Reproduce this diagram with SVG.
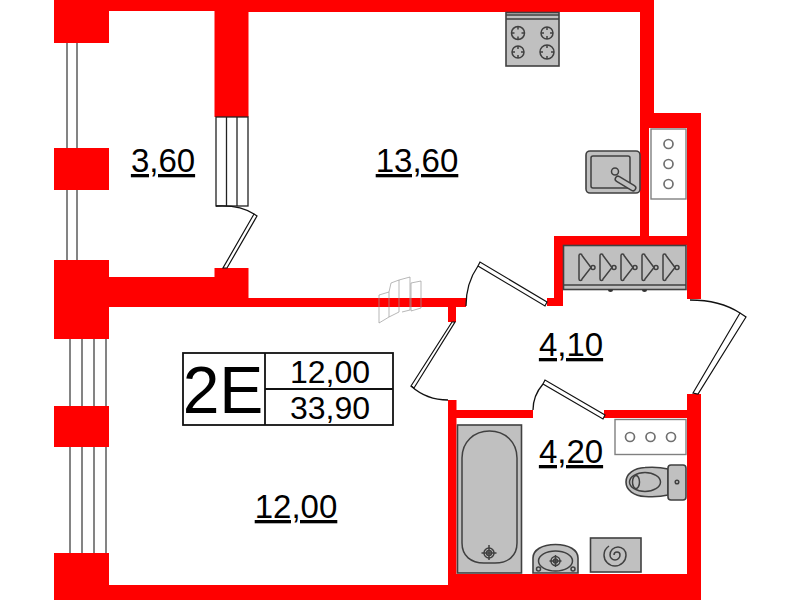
<svg xmlns="http://www.w3.org/2000/svg" width="800" height="600" viewBox="0 0 800 600">
<style>
.w{fill:#ff0000;stroke:none}
.g{fill:#c0c0c0;stroke:#404040;stroke-width:1.6}
.gn{fill:none;stroke:#404040;stroke-width:1.5}
.win{stroke:#666;stroke-width:1.6;fill:none}
.frame{fill:#fff;stroke:#222;stroke-width:1.3}
.leaf{fill:#fff;stroke:#111;stroke-width:1.2}
.arc{fill:none;stroke:#111;stroke-width:1.3}
.shaft{fill:#fff;stroke:#808080;stroke-width:1.4}
.c{fill:none;stroke:#707070;stroke-width:1.7}
.ghost{fill:none;stroke:#999;stroke-width:.7}
text{font-family:"Liberation Sans",Arial,sans-serif;fill:#000;font-size:32px;text-anchor:middle}
.u{font-size:33px;text-decoration:underline;text-decoration-thickness:1.4px;text-underline-offset:3.5px}
</style>
<rect width="800" height="600" fill="#fff"/>
<g id="windows">
<path class="win" d="M67 43V148M77 43V148M67 190V260M77 190V260M70 339V406M82 339V406M94 339V406M106 339V406M70 447V553M82 447V553M94 447V553M106 447V553"/>
</g>
<g id="walls">
<rect class="w" x="54" y="0" width="600" height="11"/>
<rect class="w" x="54" y="0" width="55" height="43"/>
<rect class="w" x="54" y="148" width="55" height="42"/>
<rect class="w" x="54" y="260" width="55" height="79"/>
<rect class="w" x="54" y="406" width="55" height="41"/>
<rect class="w" x="54" y="553" width="55" height="47"/>
<rect class="w" x="109" y="277" width="106" height="30"/>
<rect class="w" x="214.500" y="268" width="34" height="30"/>
<rect class="w" x="214.500" y="0" width="34" height="117"/>
<rect class="w" x="248" y="0" width="406" height="12"/>
<rect class="w" x="109" y="298" width="357" height="9"/>
<rect class="w" x="640" y="0" width="14" height="128"/>
<rect class="w" x="640" y="113" width="61" height="15"/>
<rect class="w" x="640" y="128" width="9" height="110"/>
<rect class="w" x="687" y="113" width="14" height="186"/>
<rect class="w" x="554" y="236" width="147" height="9"/>
<rect class="w" x="554" y="236" width="9" height="70"/>
<rect class="w" x="547" y="298" width="16" height="8"/>
<rect class="w" x="448" y="306" width="8" height="16"/>
<rect class="w" x="448" y="400" width="8.500" height="200"/>
<rect class="w" x="448" y="410" width="85" height="8"/>
<rect class="w" x="604" y="410" width="84" height="8"/>
<rect class="w" x="687" y="394" width="14" height="206"/>
<rect class="w" x="448" y="574" width="253" height="26"/>
<rect class="w" x="109" y="585" width="340" height="15"/>
</g>
<g id="balcony-door">
<rect class="frame" x="216" y="117" width="32" height="89"/>
<path class="frame" d="M226.500 117V206M237 117V206" style="fill:none"/>
<path class="leaf" d="M254 214L257 216L227 268H223Z"/>
<path class="arc" d="M216 206C232 205 245 208 254 214"/>
</g>
<g id="ghost">
<path class="ghost" d="M379 295L389 292V317L379 323ZM389 292L391 283L399 280V312L389 317M399 280L410 277V310L402 312M411 283L421 281V308L411 311Z"/>
</g>
<g id="door-hall-top">
<path class="leaf" d="M480 262L478 266L545 306L547 302Z"/>
<path class="arc" d="M466 306C466 290 471 276 478 266"/>
</g>
<g id="door-hall-left">
<path class="leaf" d="M452 322L455 322L414 388L411 386Z"/>
<path class="arc" d="M411 386C421 395 434 400 448 400"/>
</g>
<g id="door-hall-right">
<path class="leaf" d="M740 313L746 317L698 394L693 393Z"/>
<path class="arc" d="M690 300C709 300 726 304 740 313"/>
</g>
<g id="door-bath">
<path class="leaf" d="M545 380L543 384L603 419L605 415Z"/>
<path class="arc" d="M533 410C533 400 537 391 543 384"/>
</g>
<g id="stove">
<rect class="g" x="506" y="12.500" width="53" height="53.500"/>
<path class="gn" d="M506 15H559M506 19H559"/>
<circle class="gn" cx="518" cy="33" r="6.500"/><circle class="gn" cx="547" cy="33" r="6"/>
<circle class="gn" cx="518" cy="52" r="6"/><circle class="gn" cx="547" cy="52" r="7"/>
<path class="gn" d="M518 26.500v3M518 36.500v3M511.500 33h3M521.500 33h3M547 27v3M547 36v3M541 33h3M550 33h3M518 46v3M518 55v3M512 52h3M521 52h3M547 45v3M547 56v3M540 52h3M551 52h3"/>
</g>
<g id="sink">
<rect class="g" x="586" y="151" width="54" height="42" rx="4"/>
<rect class="gn" x="591" y="156" width="39" height="32" rx="2"/>
<circle class="gn" cx="615" cy="171.500" r="3.500"/>
<path d="M618 179L633 188" stroke="#404040" stroke-width="7" stroke-linecap="round"/>
<path d="M618 179L633 188" stroke="#c0c0c0" stroke-width="4" stroke-linecap="round"/>
</g>
<g id="shaft-kitchen">
<rect class="shaft" x="651" y="129" width="35" height="70"/>
<circle class="c" cx="668.500" cy="144" r="4.500"/><circle class="c" cx="668.500" cy="164" r="4.500"/><circle class="c" cx="668.500" cy="184" r="4.500"/>
</g>
<g id="wardrobe">
<rect class="g" x="563.500" y="245.500" width="122.500" height="44"/>
<path class="gn" d="M563 285H686"/>
<path d="M608 289.500a2 2 0 0 0 5 0ZM642 289.500a2 2 0 0 0 5 0Z" fill="#333"/>
<path class="gn" d="M579 255.500a1.500 1.500 0 0 1 3 0L591 267.500L582 279a1.500 1.500 0 0 1 -3 0Z"/><circle class="gn" cx="593" cy="267.500" r="2"/>
<path class="gn" d="M600 255.500a1.500 1.500 0 0 1 3 0L612 267.500L603 279a1.500 1.500 0 0 1 -3 0Z"/><circle class="gn" cx="614" cy="267.500" r="2"/>
<path class="gn" d="M621 255.500a1.500 1.500 0 0 1 3 0L633 267.500L624 279a1.500 1.500 0 0 1 -3 0Z"/><circle class="gn" cx="635" cy="267.500" r="2"/>
<path class="gn" d="M642 255.500a1.500 1.500 0 0 1 3 0L654 267.500L645 279a1.500 1.500 0 0 1 -3 0Z"/><circle class="gn" cx="656" cy="267.500" r="2"/>
<path class="gn" d="M663 255.500a1.500 1.500 0 0 1 3 0L675 267.500L666 279a1.500 1.500 0 0 1 -3 0Z"/><circle class="gn" cx="677" cy="267.500" r="2"/>
</g>
<g id="bath">
<rect class="g" x="457.500" y="425" width="64" height="148"/>
<path class="gn" d="M462 458C462 442 474 431 489.500 431C505 431 517 442 517 458V543C517 556 508 563 495 563H484C471 563 462 556 462 543Z"/>
<circle class="gn" cx="489" cy="553" r="5" stroke-width="1"/><circle class="gn" cx="489" cy="553" r="2.500" stroke-width="1"/>
<path class="gn" d="M489 545V560M481.500 553H496.500" stroke-width="1"/>
</g>
<g id="basin">
<path class="g" d="M533 573V558C533 550 542 544.500 555.500 544.500C569 544.500 578 550 578 558V573Z"/>
<ellipse class="gn" cx="555.500" cy="561" rx="17" ry="10"/>
<circle class="gn" cx="555.500" cy="561" r="4.500" stroke-width="1"/><circle class="gn" cx="555.500" cy="561" r="2" stroke-width="1"/>
<path class="gn" d="M555.500 555V567M549.500 561H561.500" stroke-width="1"/>
<circle class="gn" cx="538.500" cy="569" r="2"/><circle class="gn" cx="573" cy="569" r="2"/>
</g>
<g id="washer">
<rect class="g" x="590.500" y="538" width="50.500" height="34"/>
<path class="gn" d="M614 555a3 3 0 0 1 6 0a5 5 0 0 1 -10 0a8 8 0 0 1 16 0a11 11 0 0 1 -22 0C604 551 606 548 609 546"/>
</g>
<g id="shaft-bath">
<rect class="shaft" x="615" y="419.500" width="71" height="35"/>
<circle class="c" cx="630" cy="437" r="4.500"/><circle class="c" cx="650.500" cy="437" r="4.500"/><circle class="c" cx="671" cy="437" r="4.500"/>
</g>
<g id="toilet">
<path class="g" d="M668 469C660 467 652 467 645 467.500C634 468 626 474 626 482C626 490 634 496 645 496.500C652 497 660 497 668 495Z"/>
<ellipse class="gn" cx="645" cy="482" rx="15.500" ry="9.500"/>
<ellipse class="gn" cx="636" cy="482" rx="3.500" ry="6.500"/>
<rect class="g" x="668" y="465" width="18" height="35" rx="3"/>
<circle class="gn" cx="677" cy="482" r="1.800"/>
</g>
<g id="labels">
<text class="u" x="163" y="172">3,60</text>
<text class="u" x="417" y="172">13,60</text>
<text class="u" x="296" y="518">12,00</text>
<text class="u" x="571" y="356">4,10</text>
<text class="u" x="571" y="463">4,20</text>
</g>
<g id="info-table">
<rect x="183" y="353" width="210" height="72" fill="none" stroke="#111" stroke-width="1.800"/>
<path d="M265 353V425M265 389H393" fill="none" stroke="#111" stroke-width="1.800"/>
<text x="223" y="413" style="font-size:66px">2E</text>
<text x="330" y="383">12,00</text>
<text x="330" y="419">33,90</text>
</g>
</svg>
